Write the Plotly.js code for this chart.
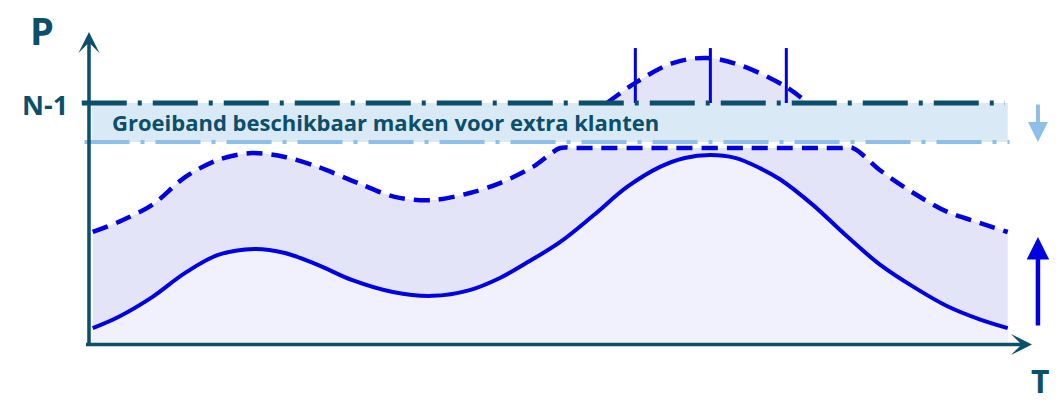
<!DOCTYPE html>
<html>
<head>
<meta charset="utf-8">
<script src="https://cdn.plot.ly/plotly-3.0.1.min.js"></script>
<style>
  html, body { margin: 0; padding: 0; background: #ffffff; }
  #chart { width: 1056px; height: 403px; }
</style>
</head>
<body>
<div id="chart"></div>
<script>
// tijd (T) en vermogen (P), P = 100 is de N-1 grens
const T_SOLID = [0.3, 3.1, 6.8, 10.4, 14.0, 18.0, 21.3, 24.9, 28.6, 33.1, 37.4, 41.5, 44.8, 48.1, 51.4, 55.0, 58.7,
                 62.3, 65.0, 67.8, 70.5, 73.2, 75.4, 79.0, 82.7, 86.3, 90.0, 93.7, 97.3, 100.3];
const P_SOLID = [7.0, 11.6, 19.8, 29.8, 37.2, 39.7, 38.0, 33.1, 26.9, 21.9, 20.3, 22.7, 27.7, 34.8, 42.6, 53.5, 65.3,
                 73.6, 77.3, 78.5, 77.3, 73.1, 68.5, 57.9, 45.0, 33.3, 24.0, 16.0, 10.5, 7.0];

const T_DASHED = [0.3, 3.1, 6.8, 10.4, 14.0, 17.7, 21.3, 24.9, 29.3, 33.3, 37.4, 41.5, 44.8, 48.4, 51.4, 53.0,
                  82.0, 83.4, 86.3, 90.0, 93.7, 97.3, 100.3];
const P_DASHED = [46.7, 50.8, 57.9, 69.4, 76.5, 79.3, 77.7, 73.6, 66.9, 61.2, 59.9, 62.8, 66.9, 73.6, 81.4, 81.4,
                  81.4, 81.4, 72.3, 62.8, 55.0, 50.4, 46.7];

// piek boven N-1
const T_BUMP = [56.5, 59.6, 63.7, 67.4, 71.0, 76.1, 78.4];
const P_BUMP = [100, 108.3, 116.5, 118.6, 115.7, 106.6, 100];

// verticale markeringen in de piek
const T_MARKS = [59.6, 67.8, 76.1];
const P_MARK_TOP = 122.7;

// grenzen
const N1 = 100;
const BAND_LOW = 83.9;
const T_LINE_START = -0.9;
const T_LINE_END = 100;

const LABEL_BAND = 'Groeiband beschikbaar maken voor extra klanten';

const teal = '#0b4f6b';
const blue = '#0000e0';
const lightBlue = '#8dbfe8';

const markX = [], markY = [];
T_MARKS.forEach(t => { markX.push(t, t, null); markY.push(N1, P_MARK_TOP, null); });

const traces = [
  {
    x: T_DASHED, y: P_DASHED, type: 'scatter', mode: 'lines',
    line: { color: blue, width: 4.5, dash: '16px,9px', shape: 'spline', smoothing: 0.9 },
    fill: 'tozeroy', fillcolor: '#e4e4f9', hoverinfo: 'skip'
  },
  {
    x: T_SOLID, y: P_SOLID, type: 'scatter', mode: 'lines',
    line: { color: blue, width: 4, shape: 'spline', smoothing: 1 },
    fill: 'tozeroy', fillcolor: '#f1f1fd', hoverinfo: 'skip'
  },
  {
    x: T_BUMP, y: P_BUMP, type: 'scatter', mode: 'lines',
    line: { color: blue, width: 4.5, dash: '16px,9px', shape: 'spline', smoothing: 1 },
    fill: 'toself', fillcolor: '#e4e4f9', hoverinfo: 'skip'
  },
  {
    x: markX, y: markY, type: 'scatter', mode: 'lines',
    line: { color: blue, width: 3 }, hoverinfo: 'skip'
  },
  {
    x: [T_LINE_START + 0.3, T_LINE_END + 0.5], y: [BAND_LOW, BAND_LOW], type: 'scatter', mode: 'lines',
    line: { color: lightBlue, width: 4, dash: '45px,11px,4px,11px' }, hoverinfo: 'skip'
  },
  {
    x: [T_LINE_START, T_LINE_END], y: [N1, N1], type: 'scatter', mode: 'lines',
    line: { color: teal, width: 5, dash: '45px,11px,4px,11px' }, hoverinfo: 'skip'
  }
];

const arrow = (tipX, tipY, tailX, tailY, color, width, head) => ({
  x: tipX, y: tipY, ax: tailX, ay: tailY,
  xref: 'x', yref: 'y', axref: 'x', ayref: 'y',
  text: '', showarrow: true, arrowhead: head, arrowsize: 1,
  arrowwidth: width, arrowcolor: color, standoff: 0, startstandoff: 0
});

const layout = {
  width: 1056,
  height: 403,
  margin: { l: 0, r: 0, t: 0, b: 0 },
  paper_bgcolor: '#ffffff',
  plot_bgcolor: '#ffffff',
  showlegend: false,
  xaxis: { range: [-9.836, 105.574], visible: false, fixedrange: true },
  yaxis: { range: [-23.967, 142.562], visible: false, fixedrange: true },
  shapes: [
    {
      type: 'rect', layer: 'below', xref: 'x', yref: 'y',
      x0: 0.2, x1: T_LINE_END + 0.3, y0: BAND_LOW, y1: N1,
      fillcolor: '#d9e9f6', line: { width: 0 }
    }
  ],
  annotations: [
    // assen
    arrow(-0.11, 129.3, -0.11, -1, teal, 3.5, 3),
    arrow(102.95, 0.2, -0.6, 0.2, teal, 3.5, 3),
    // pijlen rechts
    arrow(103.6, BAND_LOW, 103.6, N1, lightBlue, 4, 2),
    arrow(103.6, 44.6, 103.6, 7.4, blue, 4.5, 2),
    {
      x: 2.2, y: (N1 + BAND_LOW) / 2, xref: 'x', yref: 'y', xanchor: 'left', yanchor: 'middle',
      text: '<b>' + LABEL_BAND + '</b>', showarrow: false,
      font: { family: 'Open Sans, sans-serif', size: 22, color: teal }
    },
    {
      x: -5.2, y: 130.2, xref: 'x', yref: 'y', xanchor: 'center', yanchor: 'middle',
      text: '<b>P</b>', showarrow: false,
      font: { family: 'Open Sans, sans-serif', size: 38, color: teal }
    },
    {
      x: -4.9, y: N1 - 0.6, xref: 'x', yref: 'y', xanchor: 'center', yanchor: 'middle',
      text: '<b>N-1</b>', showarrow: false,
      font: { family: 'Open Sans, sans-serif', size: 27, color: teal }
    },
    {
      x: 103.9, y: -14.6, xref: 'x', yref: 'y', xanchor: 'center', yanchor: 'middle',
      text: '<b>T</b>', showarrow: false,
      font: { family: 'Open Sans, sans-serif', size: 32, color: teal }
    }
  ]
};

Plotly.newPlot('chart', traces, layout, { displayModeBar: false, staticPlot: true });
</script>
</body>
</html>
